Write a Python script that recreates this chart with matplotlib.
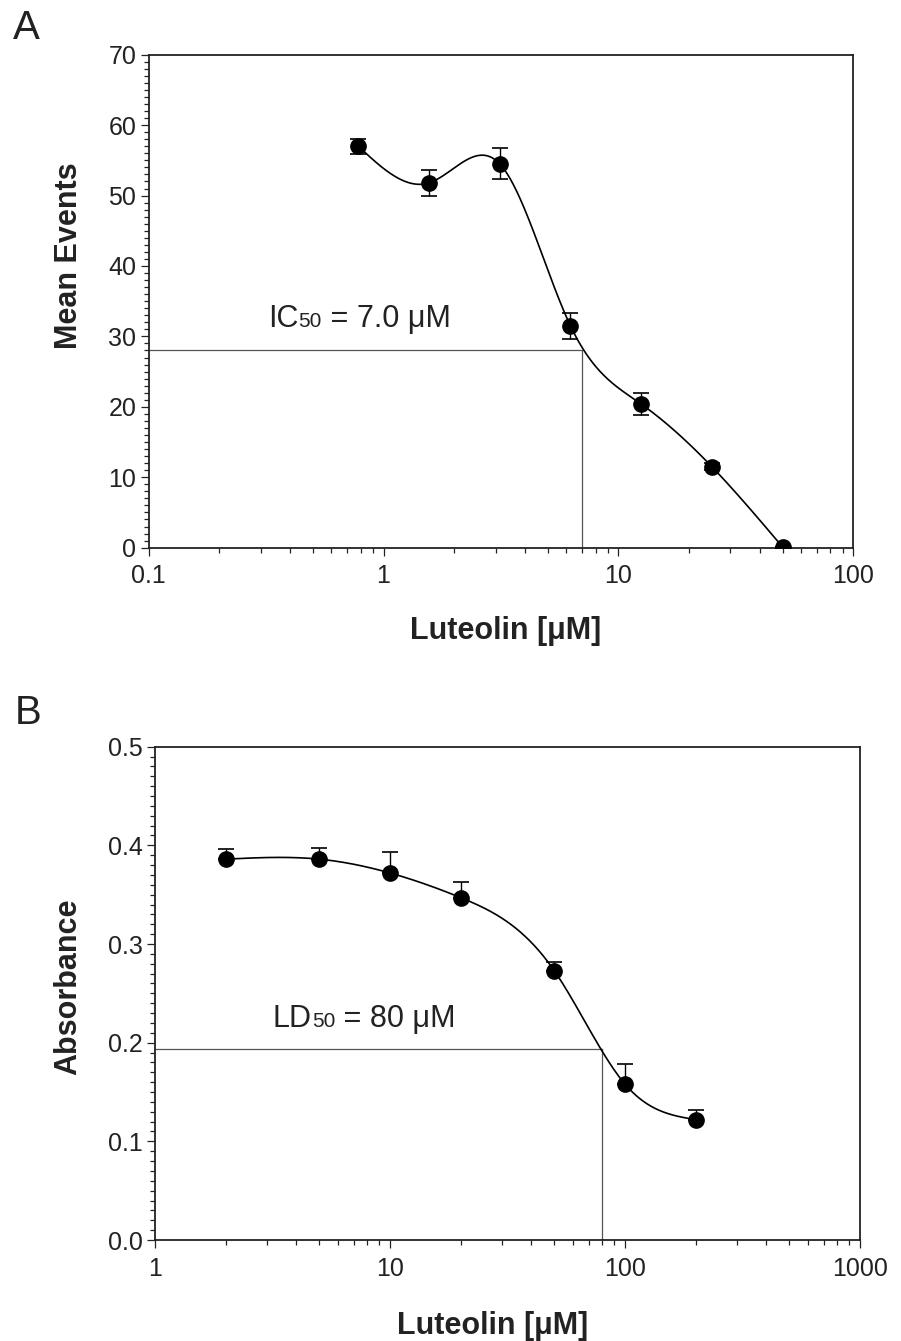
import numpy as np
import matplotlib
matplotlib.use('Agg')
import matplotlib.pyplot as plt
from matplotlib.ticker import FixedLocator, MultipleLocator, FuncFormatter, LogLocator, NullFormatter

plt.rcParams['font.family'] = ['Liberation Sans', 'DejaVu Sans']

# panel A: events vs luteolin
conc_a = [0.78125, 1.5625, 3.125, 6.25, 12.5, 25, 50]
events = [57.0, 51.8, 54.5, 31.5, 20.4, 11.5, 0.1]
events_err = [1.1, 1.9, 2.2, 1.8, 1.5, 0.5, 0.0]
ic50_x, ic50_y = 7.0, 28.0

# panel B: absorbance vs luteolin
conc_b = [2, 5, 10, 20, 50, 100, 200]
absorb = [0.386, 0.386, 0.372, 0.347, 0.273, 0.158, 0.122]
absorb_err = [0.0105, 0.0115, 0.021, 0.016, 0.0085, 0.0205, 0.010]
ld50_x, ld50_y = 80.0, 0.194

TXT = '#222222'


def spline_curve(xd, yd, num=400):
    # natural cubic spline in log10(x)
    t = np.log10(np.asarray(xd, float))
    y = np.asarray(yd, float)
    n = len(t)
    h = np.diff(t)
    A = np.zeros((n, n))
    r = np.zeros(n)
    A[0, 0] = A[-1, -1] = 1
    for i in range(1, n - 1):
        A[i, i - 1] = h[i - 1]
        A[i, i] = 2 * (h[i - 1] + h[i])
        A[i, i + 1] = h[i]
        r[i] = 6 * ((y[i + 1] - y[i]) / h[i] - (y[i] - y[i - 1]) / h[i - 1])
    M = np.linalg.solve(A, r)
    ts = np.linspace(t[0], t[-1], num)
    k = np.clip(np.searchsorted(t, ts) - 1, 0, n - 2)
    a = t[k + 1] - ts
    b = ts - t[k]
    hk = h[k]
    ys = (M[k] * a**3 + M[k + 1] * b**3) / (6 * hk) \
        + (y[k] / hk - M[k] * hk / 6) * a + (y[k + 1] / hk - M[k + 1] * hk / 6) * b
    return 10**ts, ys


def style_axes(ax):
    for s in ax.spines.values():
        s.set_linewidth(1.3)
        s.set_color('#222222')
    ax.tick_params(which='both', direction='out', top=False, right=False,
                   width=0.9, colors='#222222', labelcolor=TXT, labelsize=18)
    ax.tick_params(which='major', length=6)
    ax.tick_params(which='minor', length=3.5)
    ax.tick_params(axis='x', pad=6)
    ax.tick_params(axis='y', pad=3)


def sub_text(fig, x_px, base_px, parts):
    # pieces of text on one baseline, placed one after another
    r = fig.canvas.get_renderer()
    W, H = fig.get_size_inches() * fig.dpi
    x = x_px
    for s, size in parts:
        t = fig.text(x / W, 1 - base_px / H, s, fontsize=size, color=TXT,
                     va='baseline', ha='left')
        x += t.get_window_extent(r).width


fig = plt.figure(figsize=(9.01, 13.41), dpi=100)
axA = fig.add_axes([0.165, 0.5916, 0.782, 0.3676])
axB = fig.add_axes([0.172, 0.0753, 0.7825, 0.3679])

# A
cx, cy = spline_curve(conc_a, events)
axA.plot(cx, cy, color='black', lw=1.2, zorder=2)
axA.errorbar(conc_a, events, yerr=events_err, fmt='none', ecolor='black',
             elinewidth=1.0, capsize=5.5, capthick=1.2, zorder=3)
axA.plot(conc_a, events, 'o', color='black', ms=11, zorder=4)
axA.plot([0.1, ic50_x], [ic50_y, ic50_y], color='#555555', lw=0.9, zorder=1)
axA.plot([ic50_x, ic50_x], [0, ic50_y], color='#555555', lw=0.9, zorder=1)
axA.set_xscale('log')
axA.set_xlim(0.1, 100)
axA.set_ylim(0, 70)
axA.xaxis.set_major_locator(FixedLocator([0.1, 1, 10, 100]))
axA.xaxis.set_major_formatter(FuncFormatter(lambda v, p: '%g' % v))
axA.xaxis.set_minor_locator(LogLocator(base=10, subs=np.arange(2, 10)))
axA.xaxis.set_minor_formatter(NullFormatter())
axA.yaxis.set_major_locator(MultipleLocator(10))
axA.yaxis.set_minor_locator(MultipleLocator(1))
style_axes(axA)
axA.set_xlabel('Luteolin [μM]', fontsize=22, fontweight='bold', color=TXT)
axA.set_ylabel('Mean Events', fontsize=22, fontweight='bold', color=TXT)
axA.xaxis.set_label_coords(0.507, -0.138)
axA.yaxis.set_label_coords(-0.092, 0.592)

# B
cx, cy = spline_curve(conc_b, absorb)
axB.plot(cx, cy, color='black', lw=1.2, zorder=2)
axB.errorbar(conc_b, absorb, yerr=[np.zeros(len(absorb_err)), absorb_err], fmt='none',
             ecolor='black', elinewidth=1.0, capsize=5.5, capthick=1.2, zorder=3)
axB.plot(conc_b, absorb, 'o', color='black', ms=11, zorder=4)
axB.plot([1, ld50_x], [ld50_y, ld50_y], color='#555555', lw=0.9, zorder=1)
axB.plot([ld50_x, ld50_x], [0, ld50_y], color='#555555', lw=0.9, zorder=1)
axB.set_xscale('log')
axB.set_xlim(1, 1000)
axB.set_ylim(0, 0.5)
axB.xaxis.set_major_locator(FixedLocator([1, 10, 100, 1000]))
axB.xaxis.set_major_formatter(FuncFormatter(lambda v, p: '%g' % v))
axB.xaxis.set_minor_locator(LogLocator(base=10, subs=np.arange(2, 10)))
axB.xaxis.set_minor_formatter(NullFormatter())
axB.yaxis.set_major_locator(MultipleLocator(0.1))
axB.yaxis.set_minor_locator(MultipleLocator(0.01))
axB.yaxis.set_major_formatter(FuncFormatter(lambda v, p: '%.1f' % v))
style_axes(axB)
axB.set_xlabel('Luteolin [μM]', fontsize=22, fontweight='bold', color=TXT)
axB.set_ylabel('Absorbance', fontsize=22, fontweight='bold', color=TXT)
axB.xaxis.set_label_coords(0.479, -0.144)
axB.yaxis.set_label_coords(-0.102, 0.513)

# panel letters and IC50 / LD50 notes
fig.text(13 / 901, 1 - 39.3 / 1341, 'A', fontsize=29, color=TXT, va='baseline')
fig.text(15 / 901, 1 - 724 / 1341, 'B', fontsize=29, color=TXT, va='baseline')
sub_text(fig, 268, 327.3, [('IC', 22), ('50', 15), (' = 7.0 μM', 22)])
sub_text(fig, 272.7, 1027.3, [('LD', 22), ('50', 15), (' = 80 μM', 22)])

fig.savefig('out.png', dpi=100)
